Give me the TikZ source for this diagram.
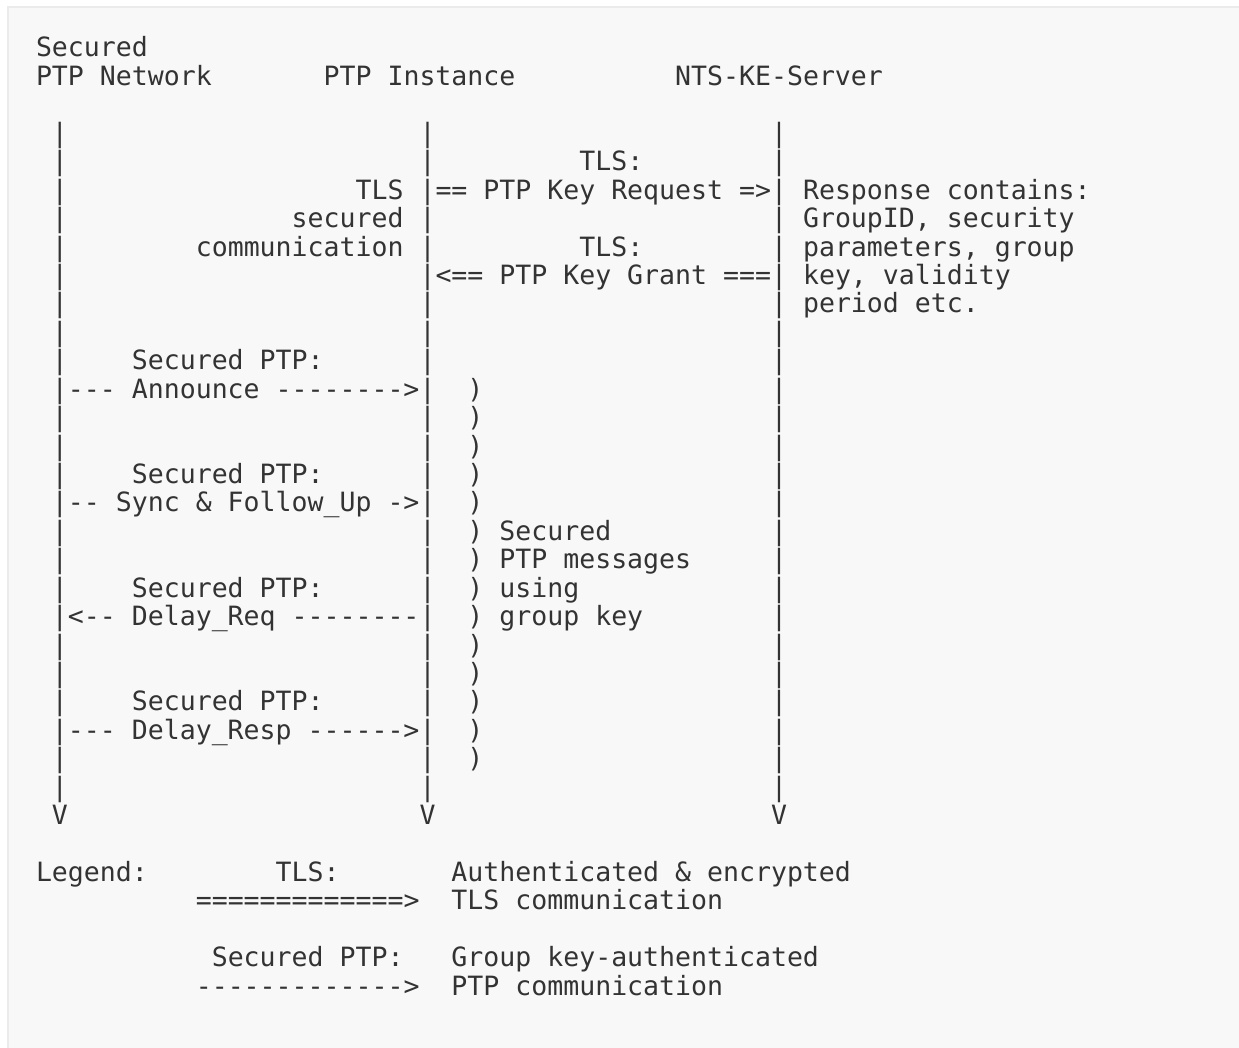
\documentclass[tikz,border=0pt]{standalone}
\usepackage{fontspec}
\setmonofont{DejaVu Sans Mono}
\definecolor{ink}{HTML}{333333}
\definecolor{paper}{HTML}{F8F8F8}
\definecolor{frame}{HTML}{EBEBEB}

\begin{document}
\begin{tikzpicture}[x=15.98pt,y=-28.43pt,
  txt/.style={anchor=base west,inner sep=0pt,outer sep=0pt,text=ink,font=\ttfamily\fontsize{26.54pt}{28.43pt}\selectfont},
  txtr/.style={txt,anchor=base east}]
\useasboundingbox (-36pt,57pt) rectangle (1203pt,-991pt);
\fill[paper,draw=frame,line width=2pt] (-28pt,50pt) rectangle (1215pt,-1000pt);
\node[txt] (hnet1) at (0,0) {Secured};
\node[txt] (hnet2) at (0,1) {PTP Network};
\node[txt] (hinst) at (18,1) {PTP Instance};
\node[txt] (hkes) at (40,1) {NTS-KE-Server};
\foreach \c/\n in {1/net,24/inst,46/kes}{
  \foreach \r in {3,...,26}{\node[txt] (\n\r) at (\c,\r) {|};}
  \node[txt] (\n-end) at (\c,27) {V};}
\node[txt] (tlsreq) at (34,4) {TLS:};
\node[txt] (keyreq) at (25,5) {== PTP Key Request =>};
\node[txt] (tlsgrant) at (34,7) {TLS:};
\node[txt] (keygrant) at (25,8) {<== PTP Key Grant ===};
\foreach \r/\t in {5/TLS,6/secured,7/communication}{\node[txtr] (chan\r) at (23,\r) {\t};}
\foreach \r/\t in {5/{Response contains:},6/{GroupID, security},7/{parameters, group},8/{key, validity},9/{period etc.}}{\node[txt] (resp\r) at (48,\r) {\t};}
\foreach \r/\t in {12/{--- Announce -------->},16/{-- Sync \& Follow\_Up ->},20/{<-- Delay\_Req --------},24/{--- Delay\_Resp ------>}}{
  \node[txt] (lab\r) at (6,\r-1) {Secured PTP:};
  \node[txt] (msg\r) at (2,\r) {\t};}
\foreach \r in {12,...,25}{\node[txt] (par\r) at (27,\r) {)};}
\foreach \r/\t in {17/Secured,18/{PTP messages},19/using,20/{group key}}{\node[txt] (note\r) at (29,\r) {\t};}
\node[txt] (leg) at (0,29) {Legend:};
\node[txt] (legtls) at (15,29) {TLS:};
\node[txt] (legtlsarr) at (10,30) {=============>};
\node[txt] (legptp) at (11,32) {Secured PTP:};
\node[txt] (legptparr) at (10,33) {------------->};
\foreach \r/\t in {29/{Authenticated \& encrypted},30/{TLS communication},32/{Group key-authenticated},33/{PTP communication}}{\node[txt] (legtxt\r) at (26,\r) {\t};}
\end{tikzpicture}
\end{document}
